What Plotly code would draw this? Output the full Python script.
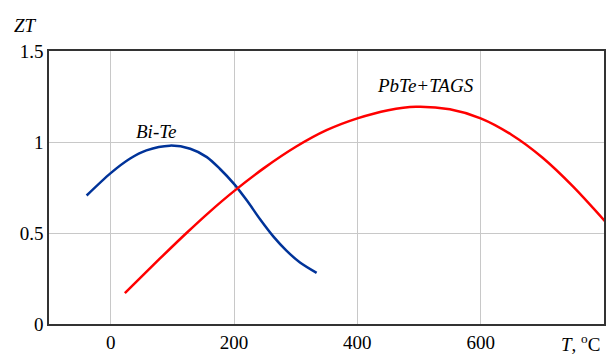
import plotly.graph_objects as go

bite_T = [-39, 0, 31, 58, 96, 129, 156, 177, 200, 221, 242, 264, 285, 307, 334]
bite_ZT = [0.706, 0.829, 0.908, 0.954, 0.98, 0.963, 0.917, 0.853, 0.77, 0.678, 0.577, 0.48, 0.403, 0.338, 0.281]

pbte_T = [23, 80, 123, 160, 200, 248, 301, 350, 400, 450, 495, 550, 600, 650, 700, 750, 803]
pbte_ZT = [0.17, 0.36, 0.50, 0.615, 0.73, 0.855, 0.975, 1.065, 1.13, 1.175, 1.194, 1.18, 1.13, 1.04, 0.915, 0.755, 0.56]

x_ticks = [0, 200, 400, 600]
y_ticks = [0, 0.5, 1, 1.5]

FONT = "Liberation Serif, Times New Roman, serif"

W, H = 609, 356
L, R, T, B = 49, 3, 51, 31
pw, ph = W - L - R, H - T - B


def px2paper(px, py):
    return (px - L) / pw, (H - B - py) / ph


fig = go.Figure()
fig.add_trace(go.Scatter(x=bite_T, y=bite_ZT, mode="lines",
                         line=dict(color="#003399", width=2.5, shape="spline", smoothing=0.8),
                         showlegend=False))
fig.add_trace(go.Scatter(x=pbte_T, y=pbte_ZT, mode="lines",
                         line=dict(color="#ff0000", width=2.5, shape="spline", smoothing=0.8),
                         showlegend=False))

fig.add_annotation(x=96, y=1.06, xref="x", yref="y", text="<i>Bi-Te</i>",
                   showarrow=False, font=dict(family=FONT, size=19, color="black"),
                   xanchor="center", yanchor="middle", xshift=-14)
fig.add_annotation(x=510, y=1.31, xref="x", yref="y", text="<i>PbTe+TAGS</i>",
                   showarrow=False, font=dict(family=FONT, size=19, color="black"),
                   xanchor="center", yanchor="middle")
zx, zy = px2paper(25, 25)
fig.add_annotation(x=zx, y=zy, xref="paper", yref="paper", text="<i>ZT</i>",
                   showarrow=False, font=dict(family=FONT, size=19, color="black"),
                   xanchor="center", yanchor="middle")
tx, ty = px2paper(582, 344)
fig.add_annotation(x=tx, y=ty, xref="paper", yref="paper", text="<i>T</i>, <sup>o</sup>C",
                   showarrow=False, font=dict(family=FONT, size=19, color="black"),
                   xanchor="center", yanchor="middle")

fig.update_layout(
    width=W, height=H,
    margin=dict(l=L, r=R, t=T, b=B),
    paper_bgcolor="white", plot_bgcolor="white",
    font=dict(family=FONT, size=19, color="black"),
)
fig.update_xaxes(range=[-100, 800], tickvals=x_ticks, showgrid=True, gridcolor="#c8c8c8",
                 gridwidth=1, zeroline=False, showline=True, linecolor="#333333",
                 linewidth=1.5, mirror=True, ticks="", ticklen=0,
                 tickfont=dict(family=FONT, size=19, color="black"))
fig.update_yaxes(range=[0, 1.5], tickvals=y_ticks, showgrid=True, gridcolor="#c8c8c8",
                 gridwidth=1, zeroline=False, showline=True, linecolor="#333333",
                 linewidth=1.5, mirror=True, ticks="", ticklen=0,
                 tickfont=dict(family=FONT, size=19, color="black"))

fig.write_html("out.html")
